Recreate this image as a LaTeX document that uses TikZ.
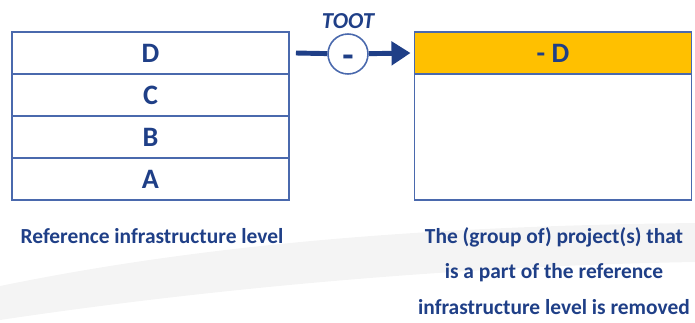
\documentclass[tikz,border=0pt]{standalone}
\usepackage{fontspec}
\setmainfont{Carlito}
\usetikzlibrary{positioning,arrows.meta}
\definecolor{navy}{HTML}{1F3F87}
\definecolor{frame}{HTML}{4A69AD}
\definecolor{amber}{HTML}{FFC000}
\definecolor{swoosh}{HTML}{F4F4F4}

\begin{document}
\begin{tikzpicture}[
  x=0.02cm, y=-0.02cm,
  layer/.style={draw=frame, line width=0.9pt, outer sep=0pt, inner sep=0pt,
    minimum width=5.54cm, minimum height=0.84cm, text=navy,
    font=\bfseries\fontsize{16}{19}\selectfont},
  wire/.style={draw=navy, line width=2.8pt},
  caption/.style={text=navy, font=\bfseries\fontsize{12.2}{20.1}\selectfont, align=center}
]
\useasboundingbox (0,0) rectangle (695,322);
% faint backdrop
\fill[swoosh] (0,286) .. controls (200,245) and (420,226) .. (695,223)
  -- (695,262) .. controls (450,266) and (200,290) .. (0,320) -- cycle;

% reference level
\node[layer] (d) at (150.5,53) {D};
\node[layer, below=0pt of d] (c) {C};
\node[layer, below=0pt of c] (b) {B};
\node[layer, below=0pt of b] (a) {A};

% result after removal
\node[layer, fill=amber] (rd) at (553,53) {- D};
\node[layer, minimum height=2.52cm, below=0pt of rd] (rest) {};

% operation
\node[circle, draw=frame, line width=0.9pt, fill=white, minimum size=0.8cm,
  inner sep=0pt, text=navy, font=\bfseries\fontsize{21}{22}\selectfont]
  (op) at (348,54) {\smash{\raisebox{-7.5pt}{-}}};
\node[above=-1pt of op, text=navy, font=\bfseries\itshape\fontsize{13}{15}\selectfont] (toot) {TOOT};
\coordinate (src) at ([xshift=0.14cm]d.east);
\draw[wire] (src) -- (op);
\draw[wire, -{Triangle[length=0.38cm, width=0.46cm]}] (op) -- ([xshift=-0.08cm]rd.west);

% captions
\node[caption] (lcap) at (152,236) {Reference infrastructure level};
\node[caption] (rcap) at (554,271)
  {The (group of) project(s) that\\is a part of the reference\\infrastructure level is removed};
\end{tikzpicture}
\end{document}
